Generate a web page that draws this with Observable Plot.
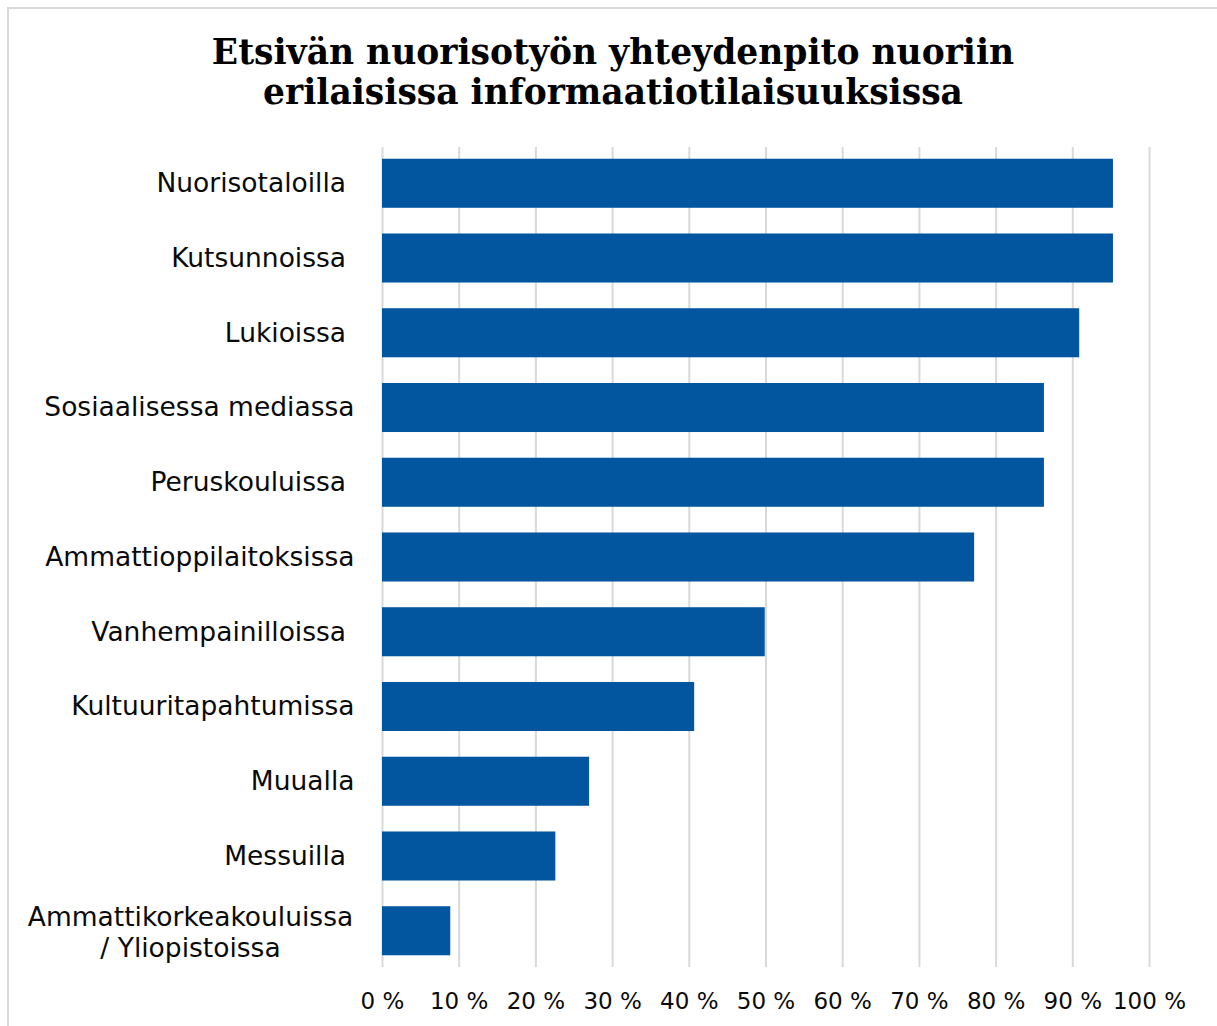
<!DOCTYPE html>
<html>
<head>
<meta charset="utf-8">
<script src="https://cdn.jsdelivr.net/npm/d3@7"></script>
<script src="https://cdn.jsdelivr.net/npm/@observablehq/plot@0.6"></script>
<style>
  html, body { margin: 0; padding: 0; background: #fff; }
  #wrap { position: relative; width: 1217px; height: 1026px; overflow: hidden; }
  #frame { position: absolute; left: 7px; top: 7px; width: 1300px; height: 1100px;
           border-top: 2px solid #d9d9d9; border-left: 2px solid #d9d9d9; pointer-events: none; }
  #title { box-sizing: border-box; height: 140px; padding-top: 32px; padding-left: 9px;
           font-family: "DejaVu Serif", serif; font-weight: bold; font-size: 34.5px;
           line-height: 40px; text-align: center; color: #000; white-space: nowrap; }
  #chart svg { display: block; }
</style>
</head>
<body>
<div id="wrap">
  <div id="frame"></div>
  <div id="title">Etsivän nuorisotyön yhteydenpito nuoriin<br>erilaisissa informaatiotilaisuuksissa</div>
  <div id="chart"></div>
</div>
<script>
const categories = [
  "Nuorisotaloilla\u00a0",
  "Kutsunnoissa\u00a0",
  "Lukioissa\u00a0",
  "Sosiaalisessa mediassa",
  "Peruskouluissa\u00a0",
  "Ammattioppilaitoksissa",
  "Vanhempainilloissa\u00a0",
  "Kultuuritapahtumissa",
  "Muualla",
  "Messuilla\u00a0",
  "Ammattikorkeakouluissa\n/ Yliopistoissa"
];
const values = [95.3, 95.3, 90.9, 86.3, 86.3, 77.2, 49.9, 40.7, 27.0, 22.6, 8.9];
const xTicks = [0, 10, 20, 30, 40, 50, 60, 70, 80, 90, 100];

const data = categories.map((c, i) => ({category: c, value: values[i]}));
const lastCat = categories[categories.length - 1];

const chart = Plot.plot({
  width: 1217,
  height: 886,
  marginTop: 7,
  marginBottom: 59,
  marginLeft: 382,
  marginRight: 68,
  style: {fontFamily: "DejaVu Sans, Verdana, sans-serif", fontSize: "23px", color: "#0a0a0a", background: "#fff"},
  x: {domain: [0, 100], ticks: xTicks, tickFormat: d => d + " %", label: null},
  y: {domain: categories, paddingInner: 0.344, paddingOuter: 0.157, round: false, axis: null, label: null},
  marks: [
    Plot.gridX(xTicks, {stroke: "#d9d9d9", strokeWidth: 2, strokeOpacity: 1}),
    Plot.barX(data, {x: "value", y: "category", fill: "#02559F"}),
    Plot.axisX(xTicks, {tickSize: 0, tickPadding: 25, fontSize: 23, fill: "#0a0a0a", label: null, tickFormat: d => d + " %"}),
    Plot.text(data.filter(d => d.category !== lastCat), {
      y: "category", text: "category", frameAnchor: "left", textAnchor: "end",
      dx: -28, fontSize: 26.5, fill: "#0a0a0a"
    }),
    Plot.text(data.filter(d => d.category === lastCat), {
      y: "category", text: "category", frameAnchor: "left", textAnchor: "middle",
      dx: -192, fontSize: 26.5, lineHeight: 1.17, fill: "#0a0a0a"
    })
  ]
});
document.getElementById("chart").appendChild(chart);
</script>
</body>
</html>
